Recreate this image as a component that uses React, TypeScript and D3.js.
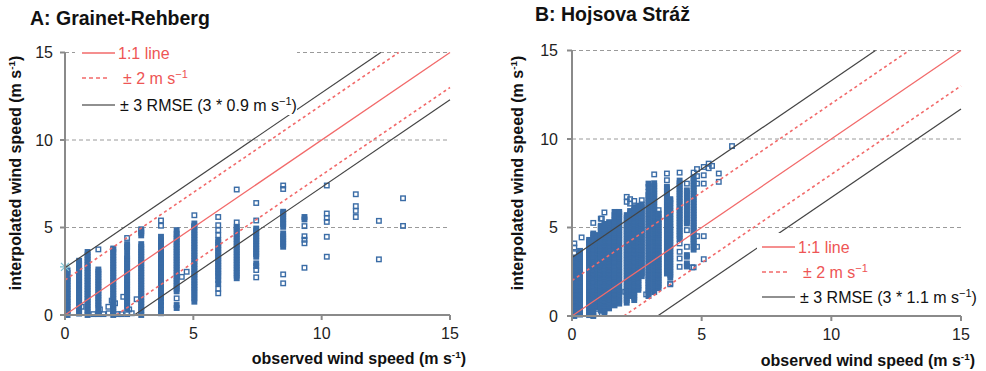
import React from 'react';
import { scaleLinear, line } from 'd3';

// axis ticks, shared by both panels
const ticks = [0, 5, 10, 15];
const band = 2; // +/- 2 m/s envelope
const rmseA = 0.9;
const rmseB = 1.1;

// A: Grainet-Rehberg, observed speed classes and interpolated values in each
const obsA = [0.1, 0.55, 0.88, 1.3, 1.88, 2.42, 2.97, 3.74, 4.35, 5.04, 5.97, 6.69, 7.45, 8.5, 9.33, 10.2, 11.33, 12.23, 13.17];
const predA = [
  [0, .15, .3, .45, .6, .75, .9, 1.05, 1.2, 1.35, 1.5, 1.65, 1.8, 1.95, 2.1, 2.2, 2.4, 2.55],
  [.08, .23, .38, .53, .68, .83, .98, 1.13, 1.28, 1.43, 1.58, 1.73, 1.88, 2.03, 2.18, 2.33, 2.48, 2.63, 2.78, 2.93, 3.1],
  [0, .15, .3, .45, .6, .75, .9, 1.05, 1.2, 1.35, 1.5, 1.65, 1.8, 1.95, 2.1, 2.25, 2.4, 2.55, 2.7, 2.85, 3, 3.15, 3.3, 3.45, 3.6],
  [.05, .15, .38, .53, .68, .83, .98, 1.13, 1.28, 1.43, 1.58, 1.73, 1.88, 2.03, 2.18, 2.33, 2.48, 2.6, 3.75],
  [0, .15, .3, .45, .6, .75, .9, 1.05, 1.2, 1.35, 1.5, 1.65, 1.8, 1.95, 2.1, 2.25, 2.4, 2.55, 2.7, 2.85, 3, 3.15, 3.3, 3.45, 3.6, 3.75, 3.8],
  [.05, .38, .53, .68, .83, .98, 1.13, 1.28, 1.43, 1.58, 1.73, 1.88, 2.03, 2.18, 2.33, 2.48, 2.63, 2.78, 2.93, 3.08, 3.23, 3.38, 3.7, 3.9, 4.05, 4.4],
  [0, .15, .3, .45, .6, .75, .9, 1.05, 1.2, 1.35, 1.5, 1.65, 1.8, 1.95, 2.1, 2.25, 2.4, 2.55, 2.7, 2.85, 3, 3.15, 3.3, 3.45, 3.6, 3.75, 3.9, 4.05, 4.55, 4.7, 4.8, 4.9],
  [.1, .3, .57, .76, .97, 1.13, 1.28, 1.43, 1.58, 1.73, 1.88, 2.03, 2.18, 2.33, 2.48, 2.63, 2.78, 2.93, 3.08, 3.23, 3.38, 3.53, 3.68, 3.83, 3.98, 4.13, 4.28, 4.47, 5.1, 5.4],
  [.4, .57, .95, 1.35, 1.5, 1.65, 1.8, 1.95, 2.1, 2.25, 2.4, 2.55, 2.7, 2.85, 3, 3.15, 3.3, 3.45, 3.6, 3.75, 3.9, 4.05, 4.2, 4.35, 4.5, 4.65, 4.85],
  [.76, .95, 1.1, 1.28, 1.43, 1.58, 1.73, 1.88, 2.03, 2.18, 2.33, 2.48, 2.63, 2.78, 2.93, 3.08, 3.23, 3.38, 3.53, 3.68, 3.83, 3.98, 4.13, 4.28, 4.43, 4.58, 4.73, 4.88, 5.03, 5.1, 5.23, 5.7],
  [1.24, 1.5, 1.8, 2, 2.2, 2.35, 2.5, 2.65, 2.8, 2.95, 3.1, 3.25, 3.4, 3.55, 3.7, 3.85, 4, 4.15, 4.28, 4.56, 4.85, 5.13, 5.6],
  [2.1, 2.25, 2.4, 2.55, 2.7, 2.85, 3, 3.15, 3.3, 3.45, 3.6, 3.75, 3.9, 4.05, 4.2, 4.35, 4.5, 4.65, 4.8, 4.95, 5.04, 5.29, 7.17],
  [2.15, 2.57, 2.8, 2.95, 3.33, 3.48, 3.63, 3.78, 3.93, 4.08, 4.23, 4.38, 4.53, 4.68, 4.83, 4.94, 5.4, 6.4],
  [1.81, 2.32, 3.9, 4.05, 4.2, 4.35, 4.5, 4.66, 5.04, 5.2, 5.35, 5.5, 5.65, 5.8, 5.9, 7.2, 7.4],
  [2.7, 4.1, 4.3, 4.5, 5.08, 5.46, 5.6],
  [3.33, 4.47, 5.32, 5.55, 5.8, 7.4],
  [5.6, 5.95, 6.22, 6.9],
  [3.18, 5.38],
  [5.09, 6.67],
];
const looseA = [
  [0.65, 0.47], [1.36, 0.32], [1.69, 0.47], [1.82, 0.82], [1.95, 0.67], [2.27, 1.04], [2.5, 0.32], [2.79, 0.9],
  [4.55, 2.18], [4.74, 2.47], [1.1, 0.05], [1.5, 0.05], [1.7, 0.1], [2.05, 0.05], [2.2, 0.05], [2.6, 0.1],
];
const starA = [0, 2.75];

// B: Hojsova Straz
const obsB = [0.09, 0.31, 0.66, 0.82, 0.98, 1.11, 1.25, 1.43, 1.64, 1.82, 2.11, 2.24, 2.4, 2.56, 2.69, 2.95, 3.17, 3.34, 3.66, 3.79, 4.15, 4.43, 4.69, 4.82, 5.08, 5.27, 5.4, 5.66, 6.17];
const predB = [
  [0, .15, .3, .45, .6, .75, .9, 1.05, 1.2, 1.35, 1.5, 1.65, 1.8, 1.95, 2.1, 2.25, 2.4, 2.55, 2.7, 2.85, 3, 3.15, 3.3, 3.55, 3.87, 4.1],
  [.08, .23, .38, .53, .68, .83, .98, 1.13, 1.28, 1.43, 1.58, 1.73, 1.88, 2.03, 2.18, 2.33, 2.48, 2.63, 2.78, 2.93, 3.08, 3.23, 3.38, 3.53, 3.68],
  [.05, .15, .3, .45, .6, .75, .9, 1.05, 1.2, 1.35, 1.5, 1.65, 1.8, 1.95, 2.1, 2.25, 2.4, 2.55, 2.7, 2.85, 3, 3.15, 3.3, 3.45, 3.6, 3.75, 3.9, 4.05, 4.2, 4.3],
  [0, .08, .23, .38, .53, .68, .83, .98, 1.13, 1.28, 1.43, 1.58, 1.73, 1.88, 2.03, 2.18, 2.33, 2.48, 2.63, 2.78, 2.93, 3.08, 3.23, 3.38, 3.53, 3.68, 3.83, 3.98, 4.13, 4.28, 4.43, 4.58, 4.66, 5.26],
  [.15, .5, .6, .75, .9, 1.05, 1.2, 1.35, 1.5, 1.65, 1.8, 1.95, 2.1, 2.25, 2.4, 2.55, 2.7, 2.85, 3, 3.15, 3.3, 3.45, 3.6, 3.75, 3.9, 4.05, 4.2, 4.35, 4.5, 4.57],
  [.3, .38, .53, .68, .83, .98, 1.13, 1.28, 1.43, 1.58, 1.73, 1.88, 2.03, 2.18, 2.33, 2.48, 2.63, 2.78, 2.93, 3.08, 3.23, 3.38, 3.53, 3.68, 3.83, 3.98, 4.13, 4.28, 4.43, 4.58, 4.73, 4.88, 5.03, 5.1, 5.5],
  [.15, .3, .45, .6, .75, .9, 1.05, 1.2, 1.35, 1.5, 1.65, 1.8, 1.95, 2.1, 2.25, 2.4, 2.55, 2.7, 2.85, 3, 3.15, 3.3, 3.45, 3.6, 3.75, 3.9, 4.05, 4.2, 4.35, 4.5, 4.65, 4.8, 4.95, 5.1, 5.2, 5.85],
  [.43, .6, .68, .83, .98, 1.13, 1.28, 1.43, 1.58, 1.73, 1.88, 2.03, 2.18, 2.33, 2.48, 2.63, 2.78, 2.93, 3.08, 3.23, 3.38, 3.53, 3.68, 3.83, 3.98, 4.13, 4.28, 4.43, 4.58, 4.73, 4.88, 5.03, 5.18, 5.3],
  [.6, .75, .9, 1.05, 1.2, 1.35, 1.5, 1.65, 1.8, 1.95, 2.1, 2.25, 2.4, 2.55, 2.7, 2.85, 3, 3.15, 3.3, 3.45, 3.6, 3.75, 3.9, 4.05, 4.2, 4.35, 4.5, 4.65, 4.8, 4.95, 5.1, 5.25, 5.4, 5.55, 5.7, 5.88],
  [.7, .83, .98, 1.13, 1.28, 1.43, 1.58, 1.73, 1.88, 2.03, 2.18, 2.33, 2.48, 2.63, 2.78, 2.93, 3.08, 3.23, 3.38, 3.53, 3.68, 3.83, 3.98, 4.13, 4.28, 4.43, 4.58, 4.73, 4.88, 5.03, 5.18, 5.33, 5.48, 5.63, 5.78, 5.88],
  [.75, .9, 1.05, 1.2, 1.35, 1.5, 1.65, 1.8, 1.95, 2.1, 2.25, 2.4, 2.55, 2.7, 2.85, 3, 3.15, 3.3, 3.45, 3.6, 3.75, 3.9, 4.05, 4.2, 4.35, 4.5, 4.65, 4.8, 4.95, 5.1, 5.25, 5.4, 5.55, 5.7, 6.45, 6.73],
  [1.13, 1.28, 1.43, 1.58, 1.73, 1.88, 2.03, 2.18, 2.33, 2.48, 2.63, 2.78, 2.93, 3.08, 3.23, 3.38, 3.53, 3.68, 3.83, 3.98, 4.13, 4.28, 4.43, 4.58, 4.73, 4.88, 5.03, 5.18, 5.33, 5.48, 5.63, 5.78, 5.93, 6.35, 6.6],
  [.9, 1.05, 1.2, 1.35, 1.5, 1.65, 1.8, 1.95, 2.1, 2.25, 2.4, 2.55, 2.7, 2.85, 3, 3.15, 3.3, 3.45, 3.6, 3.75, 3.9, 4.05, 4.2, 4.35, 4.5, 4.65, 4.8, 4.95, 5.1, 5.25, 5.4, 5.55, 5.7, 5.85, 6, 6.15, 6.5],
  [1.48, 1.58, 1.73, 1.88, 2.03, 2.18, 2.33, 2.48, 2.63, 2.78, 2.93, 3.08, 3.23, 3.38, 3.53, 3.68, 3.83, 3.98, 4.13, 4.28, 4.43, 4.58, 4.73, 4.88, 5.03, 5.18, 5.33, 5.48, 5.63, 5.78, 5.93, 6.08, 6.23],
  [2.25, 2.4, 2.55, 2.7, 2.85, 3, 3.15, 3.3, 3.45, 3.6, 3.75, 3.9, 4.05, 4.2, 4.35, 4.5, 4.65, 4.8, 4.95, 5.1, 5.25, 5.4, 5.55, 5.7, 5.85, 6, 6.15, 6.3, 6.54],
  [1.13, 1.28, 1.43, 1.58, 1.73, 1.88, 2.03, 2.18, 2.33, 2.48, 2.63, 2.78, 2.93, 3.08, 3.23, 3.38, 3.53, 3.68, 3.83, 3.98, 4.13, 4.28, 4.43, 4.58, 4.73, 4.88, 5.03, 5.18, 5.33, 5.48, 5.63, 5.78, 5.93, 6.08, 6.23, 6.38, 6.53, 6.68, 6.83, 7.01, 7.29, 7.48],
  [1.35, 1.5, 1.65, 1.8, 1.95, 2.1, 2.25, 2.4, 2.55, 2.7, 2.85, 3, 3.15, 3.3, 3.45, 3.6, 3.75, 3.9, 4.05, 4.2, 4.35, 4.5, 4.65, 4.8, 4.95, 5.1, 5.25, 5.4, 5.55, 5.7, 5.85, 6, 6.15, 6.3, 6.45, 6.6, 6.75, 6.9, 7.05, 7.2, 7.35, 7.5, 8],
  [1.58, 1.73, 1.88, 2.03, 2.18, 2.33, 2.48, 2.63, 2.78, 2.93, 3.08, 3.23, 3.38, 3.53, 3.68, 3.83, 3.98, 4.13, 4.28, 4.43, 4.58, 4.73, 4.88, 5.03, 5.18, 5.33, 5.48, 5.63, 5.78, 5.98],
  [2.4, 2.55, 2.7, 2.85, 3, 3.15, 3.3, 3.45, 3.6, 3.75, 3.9, 4.05, 4.2, 4.35, 4.5, 4.65, 4.8, 4.95, 5.1, 5.25, 5.4, 5.55, 5.7, 5.85, 6, 6.15, 6.3, 6.45, 6.6, 6.75, 6.9, 7.05, 7.2, 7.3, 7.67, 8.05],
  [1.84, 2.18, 2.33, 2.48, 2.63, 2.78, 2.93, 3.08, 3.23, 3.38, 3.53, 3.68, 3.83, 3.98, 4.13, 4.28, 4.43, 4.58, 4.73, 4.88, 5.03, 5.18, 5.33, 5.48, 5.63, 5.78, 5.93, 6.08, 6.23, 6.38, 6.53, 6.6],
  [2.78, 3.25, 3.63, 4.1, 4.35, 4.5, 4.65, 4.8, 4.95, 5.1, 5.25, 5.4, 5.55, 5.7, 5.85, 6, 6.15, 6.3, 6.45, 6.6, 6.75, 6.9, 7.05, 7.2, 7.35, 7.5, 7.65, 8.1],
  [2.8, 2.97, 3.35, 3.44, 3.91, 4.85, 5.23, 5.33, 5.48, 5.63, 5.78, 5.93, 6.08, 6.23, 6.38, 6.53, 6.68, 6.83, 6.98, 7.1, 7.48],
  [2.75, 3.75, 3.9, 4.05, 4.2, 4.35, 4.5, 4.65, 4.8, 4.95, 5.1, 5.25, 5.4, 5.55, 5.7, 5.85, 6, 6.15, 6.3, 6.45, 6.6, 6.75, 6.9, 7.05, 7.2, 7.35, 7.5, 7.65, 7.8, 8.1],
  [3.91, 4.51, 7.48, 7.9, 8.3],
  [3.21, 4.51, 7.48, 7.95, 8.42],
  [8.35, 8.61],
  [8.48],
  [7.58, 8.05],
  [9.6],
];
const looseB = [[0.37, 4.44], [1.15, 5.5], [2.05, 1.37], [2.86, 1.22], [3.79, 1.79], [4.63, 2.75], [4.43, 2.82]];

const FONT = '"Liberation Sans", Arial, Helvetica, sans-serif';
const BLUE = '#3a6ca6';
const RED = '#f26a6a';
const DARK = '#444444';
const AXIS = '#8a8a8a';

const Unit = ({ size }) => (
  <>
    <tspan>(m s</tspan>
    <tspan fontSize={size * 0.62} dy={-size * 0.38}>-1</tspan>
    <tspan dy={size * 0.38}>)</tspan>
  </>
);

const Panel = (props) => {
  const { x0, x1, y0, y1, obs, pred, loose, star, rmse, title, titleX, titleY,
    labelGap, yTitleX, yTitleMid, xTitleEnd, xTitleY, legend } = props;
  const xScale = scaleLinear().domain([0, 15]).range([x0, x1]);
  const yScale = scaleLinear().domain([0, 15]).range([y0, y1]);
  const path = line().x(d => xScale(d[0])).y(d => yScale(d[1]));

  // reference lines y = x + offset, clipped to the 0..15 box
  const refs = [
    { off: 0, stroke: RED, dash: null, w: 1.3 },
    { off: band, stroke: RED, dash: '3,3', w: 1.6 },
    { off: -band, stroke: RED, dash: '3,3', w: 1.6 },
    { off: 3 * rmse, stroke: DARK, dash: null, w: 1.2 },
    { off: -3 * rmse, stroke: DARK, dash: null, w: 1.2 },
  ].map(r => {
    const a = Math.max(0, -r.off);
    const b = Math.min(15, 15 - r.off);
    return { ...r, d: path([[a, a + r.off], [b, b + r.off]]) };
  });

  // points stacked tightly in a column merge into a solid bar, lone ones stay hollow
  const s = 4.5;
  const pts = [];
  obs.forEach((o, i) => {
    const col = pred[i];
    col.forEach((v, j) => {
      const packed = (j > 0 && v - col[j - 1] < 0.2) || (j < col.length - 1 && col[j + 1] - v < 0.2);
      pts.push([o, v, packed]);
    });
  });
  loose.forEach(p => pts.push([p[0], p[1], false]));

  const lg = legend;
  return (
    <g fontFamily={FONT}>
      <text x={titleX} y={titleY} fontSize={19.5} fontWeight="bold" fill="#111">{title}</text>
      {ticks.slice(1).map(t => (
        <line key={t} x1={xScale(0)} x2={xScale(15)} y1={yScale(t)} y2={yScale(t)}
          stroke="#9a9a9a" strokeDasharray="4,3" strokeWidth={1} />
      ))}
      {pts.map((p, i) => (
        <rect key={i} x={xScale(p[0]) - s / 2} y={yScale(p[1]) - s / 2} width={s} height={s}
          fill={p[2] ? BLUE : 'none'} stroke={BLUE} strokeWidth={1.4} />
      ))}
      {star && (
        <g transform={`translate(${xScale(star[0])},${yScale(star[1])})`} stroke="#7fc6d6" strokeWidth={1.3}>
          <line x1={-4} y1={-4} x2={4} y2={4} />
          <line x1={-4} y1={4} x2={4} y2={-4} />
          <line x1={-5} y1={0} x2={5} y2={0} />
        </g>
      )}
      {refs.map((r, i) => (
        <path key={i} d={r.d} fill="none" stroke={r.stroke} strokeWidth={r.w}
          strokeDasharray={r.dash || undefined} />
      ))}
      <path d={`M ${xScale(0)} ${yScale(0)} H ${xScale(15)}`} stroke={AXIS} strokeWidth={2} />
      <path d={`M ${xScale(0)} ${yScale(0)} V ${yScale(15)}`} stroke={AXIS} strokeWidth={2} />
      {ticks.map(t => (
        <g key={t}>
          <line x1={xScale(t)} x2={xScale(t)} y1={yScale(0)} y2={yScale(0) + 5} stroke={AXIS} strokeWidth={2} />
          <line x1={xScale(0)} x2={xScale(0) - 5} y1={yScale(t)} y2={yScale(t)} stroke={AXIS} strokeWidth={2} />
          <text x={xScale(t)} y={yScale(0) + 24} fontSize={16} textAnchor="middle" fill="#222">{t}</text>
          <text x={xScale(0) - labelGap} y={yScale(t) + 5.5} fontSize={16} textAnchor="end" fill="#222">{t}</text>
        </g>
      ))}
      <text transform={`translate(${yTitleX},${yTitleMid}) rotate(-90)`} textAnchor="middle"
        fontSize={16} fontWeight="bold" fill="#111">
        interpolated wind speed <Unit size={16} />
      </text>
      <text x={xTitleEnd} y={xTitleY} textAnchor="end" fontSize={16} fontWeight="bold" fill="#111">
        observed wind speed <Unit size={16} />
      </text>
      <rect x={lg.x} y={lg.y} width={lg.w} height={lg.h} fill="white" />
      <line x1={lg.lx} x2={lg.lx + 33} y1={lg.r1} y2={lg.r1} stroke={RED} strokeWidth={1.3} />
      <text x={lg.lx + 36} y={lg.r1 + 6} fontSize={16} fill="#ee5555">1:1 line</text>
      <line x1={lg.lx} x2={lg.lx + 27} y1={lg.r2} y2={lg.r2} stroke={RED} strokeWidth={1.5} strokeDasharray="4,3" />
      <text x={lg.lx + 41} y={lg.r2 + 6} fontSize={16} fill="#ee5555">
        ± 2 m s<tspan fontSize={11} dy={-6}>−1</tspan>
      </text>
      <line x1={lg.lx} x2={lg.lx + 33} y1={lg.r3} y2={lg.r3} stroke="#222" strokeWidth={1.2} />
      <text x={lg.lx + 38} y={lg.r3 + 6} fontSize={16} fill="#111">
        ± 3 RMSE (3 * {rmse} m s<tspan fontSize={11} dy={-6}>−1</tspan><tspan dy={6}>)</tspan>
      </text>
    </g>
  );
};

const App = () => (
  <svg width={986} height={371} style={{ position: 'absolute', left: 0, top: 0, background: 'white' }}>
    <Panel x0={65} x1={450} y0={315} y1={52.5} obs={obsA} pred={predA} loose={looseA} star={starA}
      rmse={rmseA} title="A: Grainet-Rehberg" titleX={30} titleY={25} labelGap={12}
      yTitleX={21} yTitleMid={173} xTitleEnd={466} xTitleY={364}
      legend={{ x: 75, y: 38, w: 222, h: 77, lx: 82, r1: 53, r2: 78, r3: 105 }} />
    <Panel x0={572} x1={961} y0={316} y1={50.5} obs={obsB} pred={predB} loose={looseB} star={null}
      rmse={rmseB} title="B: Hojsova Stráž" titleX={535} titleY={21} labelGap={14}
      yTitleX={523} yTitleMid={173} xTitleEnd={975} xTitleY={366}
      legend={{ x: 757, y: 233, w: 226, h: 73, lx: 762, r1: 247, r2: 272, r3: 297 }} />
  </svg>
);

export default App;
